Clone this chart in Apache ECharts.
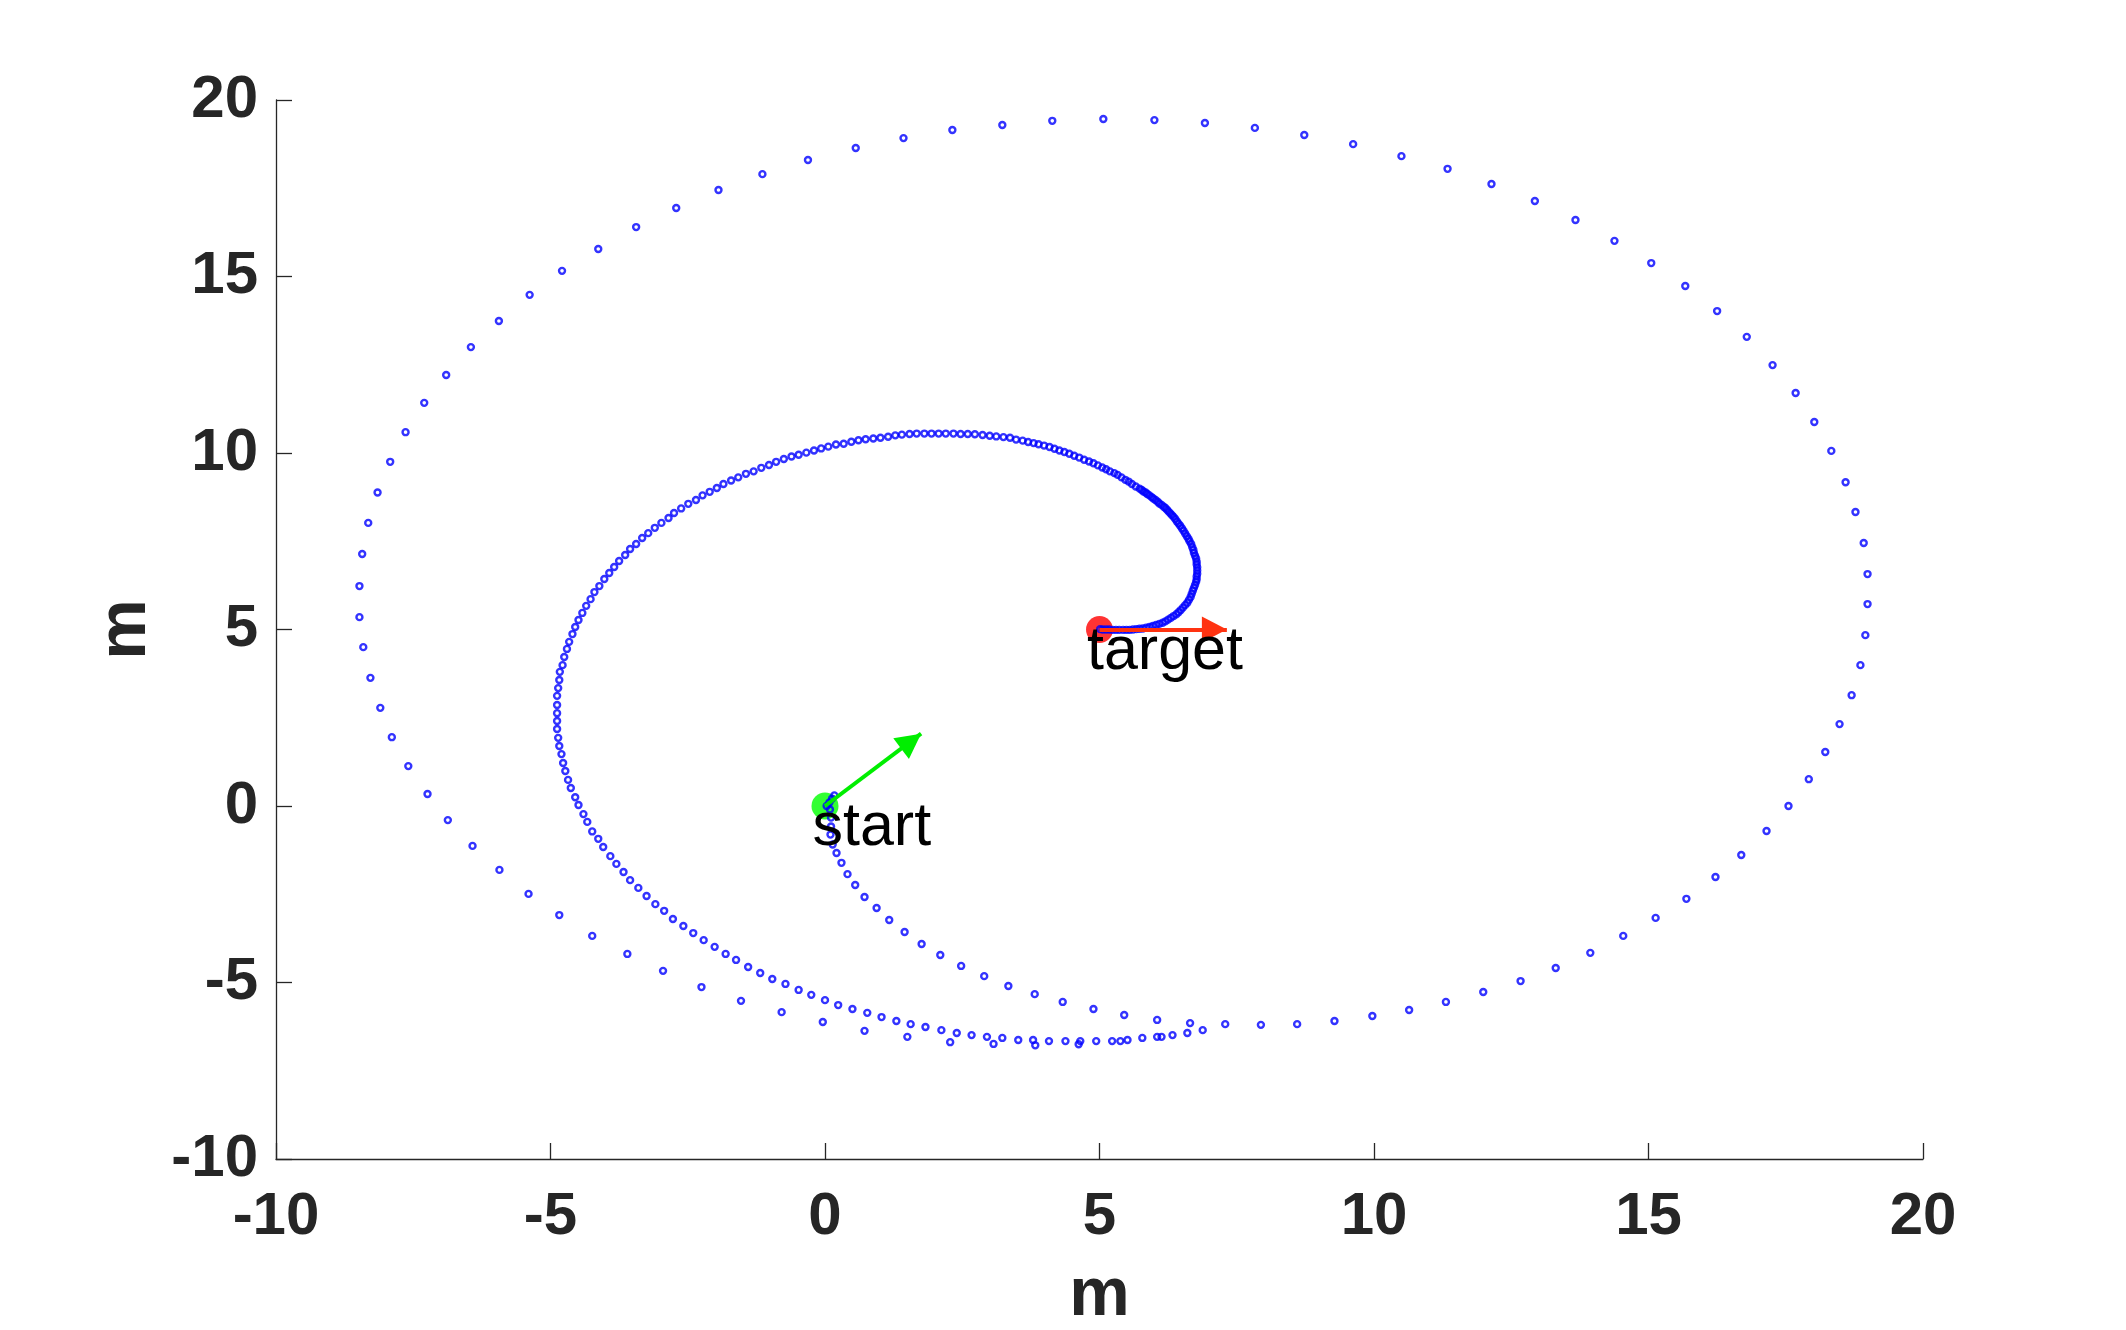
<!DOCTYPE html>
<html>
<head>
<meta charset="utf-8">
<script src="https://cdn.jsdelivr.net/npm/echarts@6/dist/echarts.min.js"></script>
<style>
html,body{margin:0;padding:0;background:#fff;}
#chart{width:2126px;height:1330px;}
</style>
</head>
<body>
<div id="chart"></div>
<script>
// ---- data ----
var xTicks = [-10, -5, 0, 5, 10, 15, 20];
var yTicks = [-10, -5, 0, 5, 10, 15, 20];

var startPose = [0, 0];
var targetPose = [5, 5];
var startHeadingTip = [1.75, 2.05];
var targetHeadingTip = [7.32, 5.0];
var markerNames = ['start', 'target'];

var departure = [
  [0.03,0.00],[0.08,0.10],[0.13,0.21],[0.17,0.30],
  [0.09,-0.10],[0.11,-0.33],[0.11,-0.58],[0.10,-0.81],[0.14,-1.09],[0.21,-1.33],[0.30,-1.61],
  [0.41,-1.93],[0.55,-2.24],[0.72,-2.58],[0.94,-2.89],[1.17,-3.23],[1.45,-3.57],[1.76,-3.91],
  [2.10,-4.22],[2.48,-4.53],[2.90,-4.82],[3.34,-5.10],[3.82,-5.33],[4.33,-5.55],[4.89,-5.75],
  [5.45,-5.92],[6.05,-6.06],[6.65,-6.15]
];

var outerLoop = [
  [7.29,-6.18],[7.94,-6.20],[8.60,-6.18],[9.28,-6.09],[9.97,-5.95],[10.64,-5.78],[11.31,-5.55],
  [11.99,-5.27],[12.67,-4.96],[13.31,-4.59],[13.94,-4.16],[14.54,-3.68],[15.13,-3.17],[15.69,-2.63],
  [16.22,-2.01],[16.69,-1.39],[17.15,-0.71],[17.55,0.00],[17.92,0.76],[18.22,1.53],[18.48,2.32],
  [18.70,3.14],[18.86,3.99],[18.95,4.84],[18.99,5.72],[18.99,6.57],[18.92,7.45],[18.77,8.33],
  [18.59,9.17],[18.33,10.06],[18.02,10.88],[17.68,11.70],[17.26,12.49],[16.79,13.29],[16.25,14.02],
  [15.67,14.73],[15.05,15.38],[14.38,16.01],[13.67,16.60],[12.93,17.14],[12.14,17.62],[11.34,18.05],
  [10.50,18.41],[9.62,18.75],[8.73,19.01],[7.83,19.21],[6.92,19.35],[6.00,19.43],[5.07,19.46],
  [4.14,19.41],[3.23,19.29],[2.32,19.15],[1.43,18.92],[0.56,18.64],[-0.31,18.30],[-1.14,17.90],
  [-1.94,17.45],[-2.71,16.94],[-3.44,16.40],[-4.13,15.78],[-4.79,15.16],[-5.38,14.48],[-5.94,13.74],
  [-6.45,13.00],[-6.90,12.21],[-7.30,11.42],[-7.64,10.59],[-7.92,9.75],[-8.15,8.88],[-8.32,8.02],
  [-8.43,7.14],[-8.48,6.23],[-8.48,5.35],[-8.41,4.50],[-8.28,3.63],[-8.10,2.78],[-7.89,1.95],
  [-7.59,1.13],[-7.24,0.34],[-6.87,-0.40],[-6.42,-1.13],[-5.93,-1.81],[-5.40,-2.49],[-4.84,-3.09],
  [-4.24,-3.68],[-3.60,-4.19],[-2.95,-4.67],[-2.25,-5.13],[-1.53,-5.52],[-0.79,-5.84],[-0.04,-6.12],
  [0.72,-6.37],[1.50,-6.54],[2.28,-6.69],[3.07,-6.74],[3.83,-6.78],[4.62,-6.75],[5.38,-6.66],
  [6.13,-6.54],[6.88,-6.35]
];

var innerSpiral = [
  [6.60,-6.43],[6.33,-6.49],[6.05,-6.54],[5.78,-6.57],[5.51,-6.63],[5.23,-6.66],[4.94,-6.66],
  [4.65,-6.66],[4.38,-6.66],[4.08,-6.66],[3.79,-6.63],[3.52,-6.63],[3.23,-6.57],[2.95,-6.54],
  [2.67,-6.49],[2.40,-6.43],[2.12,-6.35],[1.83,-6.26],[1.56,-6.18],[1.30,-6.09],[1.03,-5.98],
  [0.77,-5.86],[0.50,-5.75],[0.24,-5.64],[0.00,-5.50],[-0.25,-5.35],[-0.48,-5.21],[-0.72,-5.04],
  [-0.96,-4.90],[-1.18,-4.73],[-1.40,-4.56],[-1.62,-4.36],[-1.81,-4.19],[-2.01,-3.99],[-2.21,-3.80],
  [-2.40,-3.60],[-2.58,-3.40],[-2.77,-3.20],[-2.93,-2.97],[-3.09,-2.78],[-3.25,-2.55],[-3.40,-2.32],
  [-3.55,-2.10],[-3.67,-1.87],[-3.80,-1.64],[-3.91,-1.42],[-4.04,-1.16],[-4.13,-0.93],[-4.24,-0.72],
  [-4.33,-0.45],[-4.40,-0.23],[-4.49,0.03],[-4.55,0.25],[-4.63,0.51],[-4.68,0.74],[-4.73,0.99],
  [-4.77,1.22],[-4.80,1.47],[-4.84,1.70],[-4.86,1.93],[-4.88,2.18],[-4.88,2.41],[-4.88,2.63],
  [-4.88,2.86],[-4.88,3.12],[-4.86,3.34],[-4.84,3.57],[-4.83,3.80],[-4.78,3.99],[-4.75,4.22],
  [-4.70,4.45],[-4.66,4.65],[-4.60,4.87],[-4.55,5.07],[-4.49,5.27],[-4.42,5.47],[-4.35,5.67],
  [-4.27,5.86],[-4.20,6.06],[-4.11,6.23],[-4.02,6.43],[-3.93,6.60],[-3.84,6.77],[-3.75,6.94],
  [-3.64,7.11],[-3.55,7.28],[-3.44,7.42],[-3.33,7.59],[-3.22,7.73],[-3.10,7.88],[-2.98,8.02],
  [-2.85,8.16],[-2.75,8.30],[-2.62,8.43],[-2.49,8.56],[-2.35,8.67],[-2.23,8.80],[-2.10,8.90],
  [-1.97,9.01],[-1.85,9.12],[-1.71,9.22],[-1.58,9.31],[-1.44,9.41],[-1.30,9.48],[-1.16,9.58],
  [-1.02,9.66],[-0.89,9.75],[-0.75,9.83],[-0.61,9.90],[-0.48,9.95],[-0.34,10.01],[-0.20,10.07],
  [-0.07,10.13],[0.06,10.18],[0.20,10.24],[0.34,10.26],[0.48,10.32],[0.61,10.36],[0.74,10.39],
  [0.88,10.41],[1.01,10.43],[1.15,10.46],[1.28,10.50],[1.40,10.52],[1.54,10.54],[1.67,10.55],
  [1.81,10.55],[1.94,10.55],[2.07,10.55],[2.20,10.55],[2.34,10.55],[2.47,10.54],[2.60,10.54],
  [2.73,10.53],[2.87,10.51],[3.00,10.49],[3.12,10.47],[3.25,10.45],[3.37,10.43],[3.48,10.38],
  [3.60,10.35],[3.70,10.31],[3.80,10.28],[3.89,10.25],[3.99,10.21],[4.09,10.17],[4.18,10.12],
  [4.27,10.07],[4.36,10.03],[4.45,9.98],[4.54,9.92],[4.63,9.87],[4.72,9.81],[4.81,9.76],
  [4.89,9.71],[4.97,9.65],[5.05,9.59],[5.12,9.54],[5.19,9.48],[5.27,9.43],[5.33,9.38],
  [5.40,9.31],[5.47,9.24],[5.53,9.19],[5.59,9.12],[5.66,9.05]
];

var finalApproach = [
  [5.73,8.99],[5.77,8.95],[5.80,8.91],[5.84,8.88],[5.87,8.84],[5.91,8.80],[5.95,8.75],[5.98,8.71],
  [6.02,8.67],[6.06,8.62],[6.09,8.57],[6.13,8.53],[6.17,8.48],[6.20,8.44],[6.23,8.39],[6.26,8.34],
  [6.29,8.29],[6.32,8.24],[6.35,8.19],[6.38,8.13],[6.41,8.06],[6.44,8.00],[6.47,7.94],[6.50,7.87],
  [6.53,7.80],[6.56,7.72],[6.59,7.64],[6.62,7.57],[6.64,7.50],[6.67,7.42],[6.69,7.33],[6.71,7.25],
  [6.72,7.17],[6.74,7.09],[6.76,7.01],[6.77,6.92],[6.77,6.84],[6.78,6.76],[6.78,6.67],[6.78,6.58],
  [6.77,6.50],[6.77,6.42],[6.76,6.35],[6.74,6.26],[6.72,6.18],[6.70,6.10],[6.68,6.01],[6.66,5.92],
  [6.63,5.84],[6.60,5.76],[6.56,5.69],[6.52,5.62],[6.48,5.55],[6.44,5.49],[6.40,5.43],[6.35,5.38],
  [6.30,5.33],[6.25,5.28],[6.20,5.23],[6.15,5.19],[6.09,5.16],[6.03,5.13],[5.97,5.10],[5.91,5.07],
  [5.85,5.05],[5.79,5.03],[5.73,5.02],[5.67,5.01],[5.61,5.00],[5.55,4.99],[5.49,4.99],[5.43,4.99],
  [5.36,4.99],[5.30,4.99],[5.24,4.99],[5.18,5.00],[5.12,5.00],[5.06,5.00],[5.01,5.01]
];

// ---- chart ----
var FONT = "'Liberation Sans', Arial, Helvetica, sans-serif";
var AX = '#262626';
var trajectory = departure.concat(outerLoop, innerSpiral, finalApproach);
// arrow head: tip at the symbol centre, body trailing behind
var HEAD = 'path://M0,0 L13,25 L-13,25 Z M-25,-25 L-25,-25 M25,-25 L25,-25';

function axisCfg(ticks, isX) {
  return {
    type: 'value',
    min: ticks[0],
    max: ticks[ticks.length - 1],
    interval: ticks[1] - ticks[0],
    name: 'm',
    nameLocation: 'middle',
    nameGap: isX ? 103 : 113,
    nameTextStyle: {fontFamily: FONT, fontWeight: 'bold', fontSize: 68, color: AX},
    axisLine: {show: true, onZero: false, lineStyle: {color: AX, width: 1.3}},
    axisTick: {show: true, inside: true, length: 16, lineStyle: {color: AX, width: 1.3}},
    axisLabel: {fontFamily: FONT, fontWeight: 'bold', fontSize: 60, color: AX, margin: isX ? 28 : 18},
    splitLine: {show: false}
  };
}

var chart = echarts.init(document.getElementById('chart'), null, {renderer: 'canvas'});
chart.setOption({
  animation: false,
  backgroundColor: '#ffffff',
  grid: {left: 276, right: 203, top: 100, bottom: 171, containLabel: false, outerBoundsMode: 'none'},
  xAxis: axisCfg(xTicks, true),
  yAxis: axisCfg(yTicks, false),
  series: [
    {
      type: 'scatter', z: 1, silent: true,
      symbol: 'circle', symbolSize: 27,
      data: [
        {value: startPose, itemStyle: {color: '#00ff00'}},
        {value: targetPose, itemStyle: {color: '#ff0000'}}
      ]
    },
    {
      type: 'scatter', z: 2, silent: true,
      symbol: 'circle', symbolSize: 6,
      itemStyle: {color: 'rgba(0,0,0,0)', borderColor: '#0000ff', borderWidth: 2.4},
      data: trajectory
    },
    {
      type: 'lines', coordinateSystem: 'cartesian2d', z: 3, silent: true,
      symbol: ['none', HEAD], symbolSize: [0, 50],
      data: [
        {coords: [startPose, startHeadingTip], lineStyle: {color: '#00ee00', width: 4}},
        {coords: [targetPose, targetHeadingTip], lineStyle: {color: '#ff3311', width: 4}}
      ],
      lineStyle: {opacity: 1}
    },
    {
      type: 'scatter', z: 5, silent: true,
      symbol: 'circle', symbolSize: 27,
      itemStyle: {color: 'rgba(0,0,0,0)'},
      label: {
        show: true, position: [1, 36], align: 'left', verticalAlign: 'middle',
        fontFamily: FONT, fontSize: 61, color: '#000000', opacity: 1,
        formatter: function (p) { return markerNames[p.dataIndex]; }
      },
      data: [startPose, targetPose]
    }
  ]
});
</script>
</body>
</html>
